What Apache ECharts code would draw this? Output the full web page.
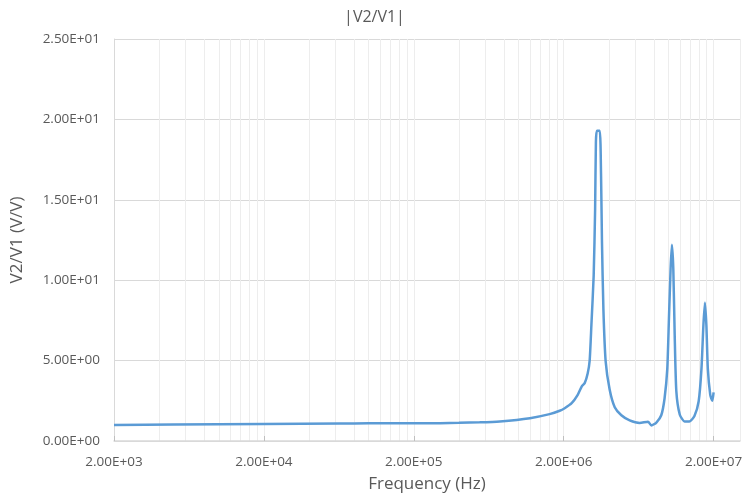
<!DOCTYPE html>
<html>
<head>
<meta charset="utf-8">
<title>|V2/V1|</title>
<script src="https://cdn.jsdelivr.net/npm/echarts@6.0.0/dist/echarts.min.js"></script>
<style>
    html, body { margin: 0; padding: 0; background: #fff; }
    #chart { width: 749px; height: 498px; }
</style>
</head>
<body>
<div id="chart"></div>
<script>
// frequency (Hz) and |V2/V1|
var freq = [
    2000, 5000, 20000, 64000, 100000, 200000, 300000, 400000, 550000, 750000, 1190000, 1610000, 1880000,
    2030000, 2260000, 2480000, 2640000, 2760000, 2890000, 2980000, 3060000, 3170000, 3240000,
    3280000, 3330000, 3480000, 3550000, 3600000, 3680000, 3810000, 4050000, 4380000, 4850000,
    5510000, 6420000, 7300000, 7690000, 8300000, 8950000, 9420000, 9820000, 10070000, 10330000,
    10540000, 10770000, 11000000, 11280000, 11900000, 12800000, 13800000, 14900000, 15900000, 16600000,
    17100000, 17500000, 17900000, 18300000, 19000000, 19600000, 20000000
];
var gain = [
    1.00, 1.03, 1.06, 1.09, 1.10, 1.10, 1.11, 1.13, 1.16, 1.22, 1.42, 1.67, 1.88,
    2.04, 2.35, 2.87, 3.40, 3.60, 4.20, 5.00, 7.20, 10.3, 14.4,
    18.6, 19.3, 19.3, 16.5, 12.4, 8.20, 4.95, 3.20, 2.10, 1.60,
    1.28, 1.12, 1.20, 0.97, 1.15, 1.60, 2.66, 4.50, 7.60, 10.7,
    12.2, 10.7, 6.60, 3.10, 1.63, 1.22, 1.22, 1.55, 2.47, 4.50,
    7.20, 8.60, 7.20, 4.50, 2.87, 2.50, 3.03
];
var xMajor = [2000, 20000, 200000, 2000000, 20000000];
var xMin = 2000, xMax = 30000000;
var yMin = 0, yMax = 25, yStep = 5;

// Excel-style log gridlines: 1..9 times each major value
var xGrid = [];
xMajor.forEach(function(m) {
    for (var k = 1; k <= 9; k++) {
        if (m * k <= xMax) xGrid.push(m * k);
    }
});
xGrid.push(xMax);

function sci(v) {
    var parts = Number(v).toExponential(2).split('e');
    var e = parseInt(parts[1], 10);
    var sign = e < 0 ? '-' : '+';
    var digits = String(Math.abs(e));
    if (digits.length < 2) digits = '0' + digits;
    return parts[0] + 'E' + sign + digits;
}

var points = freq.map(function(f, i) { return [f, gain[i]]; });

var textColor = '#595959';
var fontName = '"Open Sans", "Liberation Sans", sans-serif';

var chart = echarts.init(document.getElementById('chart'));
chart.setOption({
    animation: false,
    title: {
        text: '|V2/V1|',
        left: 'center',
        top: 4,
        textStyle: { color: textColor, fontFamily: fontName, fontSize: 16, fontWeight: 'normal' }
    },
    grid: { left: 114, right: 9, top: 39, bottom: 55 },
    xAxis: [{
        type: 'log',
        logBase: 10,
        min: xMin,
        max: xMax,
        name: 'Frequency (Hz)',
        nameLocation: 'middle',
        nameGap: 35,
        nameTextStyle: { color: textColor, fontFamily: fontName, fontSize: 17 },
        axisLine: { lineStyle: { color: '#d9d9d9', width: 1.5 } },
        axisTick: { show: true, inside: true, length: 5, customValues: xMajor, lineStyle: { color: '#bfbfbf' } },
        axisLabel: { customValues: xMajor, margin: 14, color: textColor, fontFamily: fontName, fontSize: 13.5, formatter: sci },
        splitLine: { show: false }
    }, {
        type: 'log',
        logBase: 10,
        min: xMin,
        max: xMax,
        position: 'bottom',
        axisLine: { show: false },
        axisTick: { show: false, customValues: xGrid },
        axisLabel: { show: false, customValues: xGrid },
        splitLine: { show: true, lineStyle: { color: '#ededed', width: 1 } }
    }],
    yAxis: {
        type: 'value',
        min: yMin,
        max: yMax,
        interval: yStep,
        name: 'V2/V1 (V/V)',
        nameLocation: 'middle',
        nameGap: 88,
        nameTextStyle: { color: textColor, fontFamily: fontName, fontSize: 17 },
        axisLine: { show: true, lineStyle: { color: '#d9d9d9', width: 1 } },
        axisTick: { show: false },
        axisLabel: { margin: 14, color: textColor, fontFamily: fontName, fontSize: 13.5, formatter: sci },
        splitLine: { show: true, lineStyle: { color: '#d9d9d9', width: 1 } }
    },
    series: [{
        type: 'line',
        data: points,
        showSymbol: false,
        smooth: 0.2,
        lineStyle: { color: '#5b9bd5', width: 2.5 },
        itemStyle: { color: '#5b9bd5' }
    }]
});
</script>
</body>
</html>
